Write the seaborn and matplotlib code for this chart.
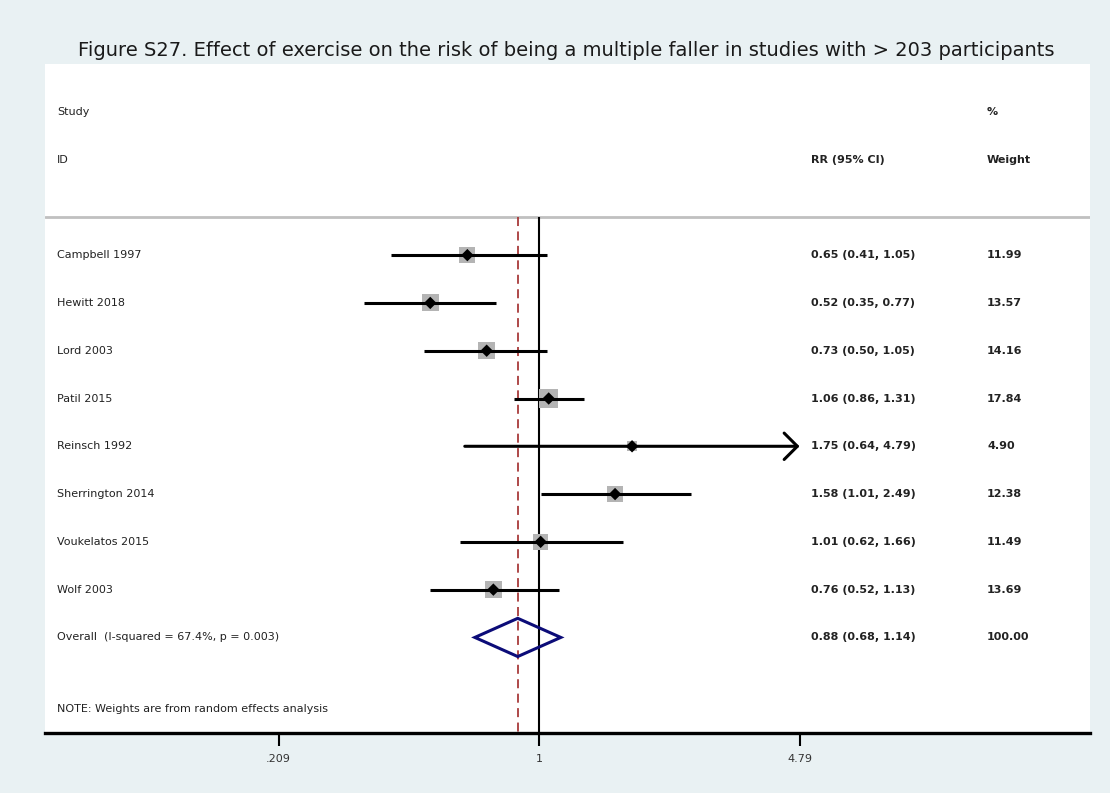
import numpy as np
import pandas as pd
import matplotlib
matplotlib.use("Agg")
import matplotlib.pyplot as plt
from matplotlib.transforms import blended_transform_factory
import seaborn as sns

# Study-level relative risks (95% CI) and random-effects weights
studies = ["Campbell 1997", "Hewitt 2018", "Lord 2003", "Patil 2015",
           "Reinsch 1992", "Sherrington 2014", "Voukelatos 2015", "Wolf 2003"]
rr = [0.65, 0.52, 0.73, 1.06, 1.75, 1.58, 1.01, 0.76]
ci_low = [0.41, 0.35, 0.50, 0.86, 0.64, 1.01, 0.62, 0.52]
ci_high = [1.05, 0.77, 1.05, 1.31, 4.79, 2.49, 1.66, 1.13]
weights = [11.99, 13.57, 14.16, 17.84, 4.90, 12.38, 11.49, 13.69]

# Pooled estimate
overall_rr, overall_low, overall_high = 0.88, 0.68, 1.14
overall_weight = 100.00
i_squared, p_het = 67.4, 0.003

# Axis ticks (symmetric on the log scale around 1)
tick_values = [0.209, 1, 4.79]
tick_labels = [".209", "1", "4.79"]

title = ("Figure S27. Effect of exercise on the risk of being a multiple faller "
         "in studies with > 203 participants")

sns.set_style("white")
plt.rcParams["font.family"] = ["DejaVu Sans"]

bg = "#e9f1f3"
txt = "#222222"
fig = plt.figure(figsize=(11.10, 7.93), dpi=100, facecolor=bg)
ax = fig.add_axes([45 / 1110, 60 / 793, 1045 / 1110, 669 / 793])
ax.set_facecolor("white")

df = pd.DataFrame({"study": studies, "rr": rr, "low": ci_low,
                   "high": ci_high, "weight": weights})
df["row"] = np.arange(len(df))
overall_row = len(df)

ax.set_xscale("log")
ax.set_xlim(np.exp(-494 / 166.3), np.exp(551 / 166.3))
ax.set_ylim(10, -4)

# Reference lines: null effect and pooled estimate
ax.vlines(1, -0.8, 10, color="black", lw=1.5, zorder=2)
ax.vlines(overall_rr, -0.8, 10, color="#a83a3a", lw=1.3,
          linestyles=(0, (5, 3)), zorder=2)
ax.axhline(-0.8, color="#c0c0c0", lw=2.0, zorder=1)

# Weight boxes (area proportional to weight)
sns.scatterplot(data=df, x="rr", y="row", size="weight", sizes=(0, 219),
                size_norm=(0, 20), marker="s", color="#b4b4b4",
                edgecolor="none", legend=False, ax=ax, zorder=3)

# Confidence intervals
for _, r in df.iterrows():
    if r["high"] >= 4.79:
        ax.annotate("", xy=(r["high"], r["row"]), xytext=(r["low"], r["row"]),
                    arrowprops=dict(arrowstyle="->,head_length=0.95,head_width=0.95",
                                    lw=2.2, color="black",
                                    shrinkA=0, shrinkB=0), zorder=4)
    else:
        ax.hlines(r["row"], r["low"], r["high"], color="black", lw=2.2, zorder=4)

# Point estimates
sns.scatterplot(data=df, x="rr", y="row", marker="D", color="black",
                s=40, edgecolor="none", legend=False, ax=ax, zorder=5)

# Pooled diamond
h = 0.4
ax.fill([overall_low, overall_rr, overall_high, overall_rr],
        [overall_row, overall_row - h, overall_row, overall_row + h],
        facecolor="none", edgecolor="#0c0c78", lw=2.2, zorder=6)

# Text columns
tr = blended_transform_factory(ax.transAxes, ax.transData)
x_id, x_rr, x_wt = 12 / 1045, 766 / 1045, 942 / 1045
fs = 8
kw = dict(transform=tr, fontsize=fs, va="center", color=txt)
ax.text(x_id, -3, "Study", **kw)
ax.text(x_id, -2, "ID", **kw)
ax.text(x_wt, -3, "%", fontweight="bold", **kw)
ax.text(x_rr, -2, "RR (95% CI)", fontweight="bold", **kw)
ax.text(x_wt, -2, "Weight", fontweight="bold", **kw)

for _, r in df.iterrows():
    ax.text(x_id, r["row"], r["study"], **kw)
    ax.text(x_rr, r["row"], f"{r['rr']:.2f} ({r['low']:.2f}, {r['high']:.2f})",
            fontweight="bold", **kw)
    ax.text(x_wt, r["row"], f"{r['weight']:.2f}", fontweight="bold", **kw)

ax.text(x_id, overall_row,
        f"Overall  (I-squared = {i_squared:.1f}%, p = {p_het:.3f})", **kw)
ax.text(x_rr, overall_row,
        f"{overall_rr:.2f} ({overall_low:.2f}, {overall_high:.2f})",
        fontweight="bold", **kw)
ax.text(x_wt, overall_row, f"{overall_weight:.2f}", fontweight="bold", **kw)
ax.text(x_id, 9.5, "NOTE: Weights are from random effects analysis", **kw)

# Axes styling
for side in ["top", "left", "right"]:
    ax.spines[side].set_visible(False)
ax.spines["bottom"].set_linewidth(2.4)
ax.spines["bottom"].set_color("black")
ax.set_yticks([])
ax.set_xticks(tick_values)
ax.set_xticklabels(tick_labels)
ax.xaxis.set_minor_locator(matplotlib.ticker.NullLocator())
ax.tick_params(axis="x", direction="out", length=9, width=1.5, color="black",
               pad=6, labelsize=8, labelcolor="#333333", bottom=True)
ax.set_xlabel("")
ax.set_ylabel("")

fig.text(566 / 1110, 1 - 50 / 793, title, ha="center", va="center",
         fontsize=14, color="#1a1a1a")

fig.savefig("out.png", dpi=100, facecolor=bg)
